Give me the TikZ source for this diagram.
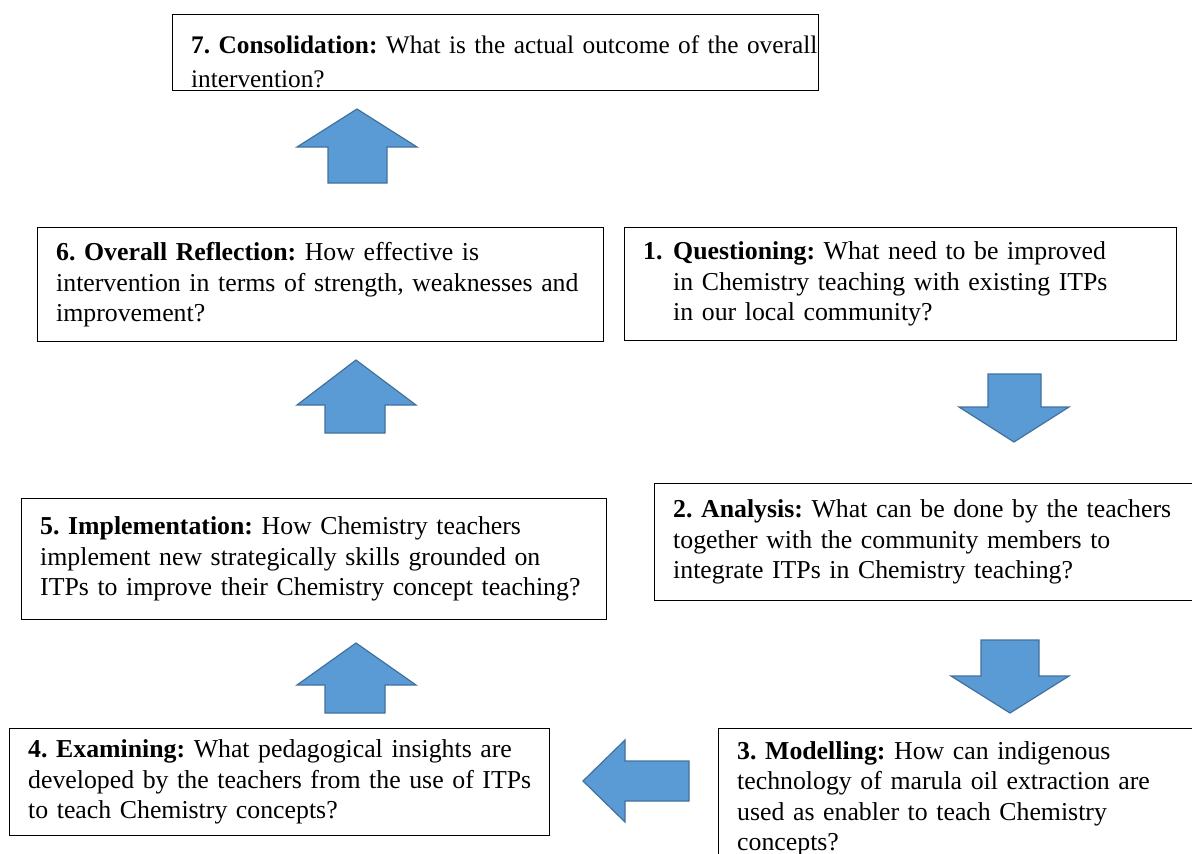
\documentclass[tikz,border=0pt]{standalone}
\usepackage{fontspec}
\setmainfont{Liberation Serif}
\definecolor{arrowfill}{HTML}{5B9BD5}
\definecolor{arrowedge}{HTML}{41719C}
% lines may run a little into the right padding instead of wrapping
\newcommand{\boxlines}{\frenchspacing\hyphenpenalty=10000\rightskip=-40pt plus 1fil\relax}

\begin{document}
\begin{tikzpicture}[x=1pt,y=-1pt,
  qbox/.style={draw=black, line width=1.4pt, anchor=north west, align=left,
    inner xsep=18.5pt, inner ysep=0pt, font=\fontsize{25.8}{30.5}\selectfont},
  blockarrow/.style={fill=arrowfill, draw=arrowedge, line width=1.2pt, line join=miter}]
\clip (0,0) rectangle (1192,854);

% question boxes of the cycle
\node[qbox, minimum width=646pt, minimum height=76pt, text width=609pt,
      font=\fontsize{25.3}{34}\selectfont] (c7) at (172,14)
  {\boxlines\rule{0pt}{35pt}\textbf{7. Consolidation:} What is the actual outcome of the overall\\intervention?};
\node[qbox, minimum width=566pt, minimum height=114pt, text width=529pt] (c6) at (37,227)
  {\boxlines\textbf{6. Overall Reflection:} How effective is\\intervention in terms of strength, weaknesses and\\improvement?};
\node[qbox, minimum width=552pt, minimum height=113pt, text width=515pt] (c1) at (624,227)
  {\boxlines\makebox[30pt][l]{\textbf{1.}}\textbf{Questioning:} What need to be improved\\\hspace*{30pt}in Chemistry teaching with existing ITPs\\\hspace*{30pt}in our local community?};
\node[qbox, minimum width=556pt, minimum height=117pt, text width=519pt] (c2) at (654,483)
  {\boxlines\textbf{2. Analysis:} What can be done by the teachers\\together with the community members to\\integrate ITPs in Chemistry teaching?};
\node[qbox, minimum width=585pt, minimum height=121pt, text width=548pt] (c5) at (21,498)
  {\boxlines\textbf{5. Implementation:} How Chemistry teachers\\implement new strategically skills grounded on\\ITPs to improve their Chemistry concept teaching?};
\node[qbox, minimum width=540pt, minimum height=107pt, text width=503pt] (c4) at (9,728)
  {\boxlines\textbf{4. Examining:} What pedagogical insights are\\developed by the teachers from the use of ITPs\\to teach Chemistry concepts?};
\node[qbox, minimum width=492pt, minimum height=140pt, text width=455pt] (c3) at (718,728)
  {\boxlines\textbf{3. Modelling:} How can indigenous\\technology of marula oil extraction are\\used as enabler to teach Chemistry\\concepts?};

% block arrows between the stages
% 1 -> 2
\draw[blockarrow] (988,374) -- (1041,374) -- (1041,407) -- (1069,407) -- (1014,442)
  -- (959,407) -- (988,407) -- cycle;
% 2 -> 3
\draw[blockarrow] (981,640) -- (1039,640) -- (1039,676) -- (1069,676) -- (1010,713)
  -- (951,676) -- (981,676) -- cycle;
% 3 -> 4
\draw[blockarrow] (689,761) -- (689,801) -- (625,801) -- (625,822) -- (583,781)
  -- (625,740) -- (625,761) -- cycle;
% 4 -> 5
\draw[blockarrow] (325,713) -- (385,713) -- (385,685) -- (416,685) -- (356,643)
  -- (297,685) -- (325,685) -- cycle;
% 5 -> 6
\draw[blockarrow] (325,433) -- (385,433) -- (385,405) -- (416,405) -- (356,360)
  -- (297,405) -- (325,405) -- cycle;
% 6 -> 7
\draw[blockarrow] (328,183) -- (387,183) -- (387,147) -- (417,147) -- (357,109)
  -- (297,147) -- (328,147) -- cycle;
\end{tikzpicture}
\end{document}
